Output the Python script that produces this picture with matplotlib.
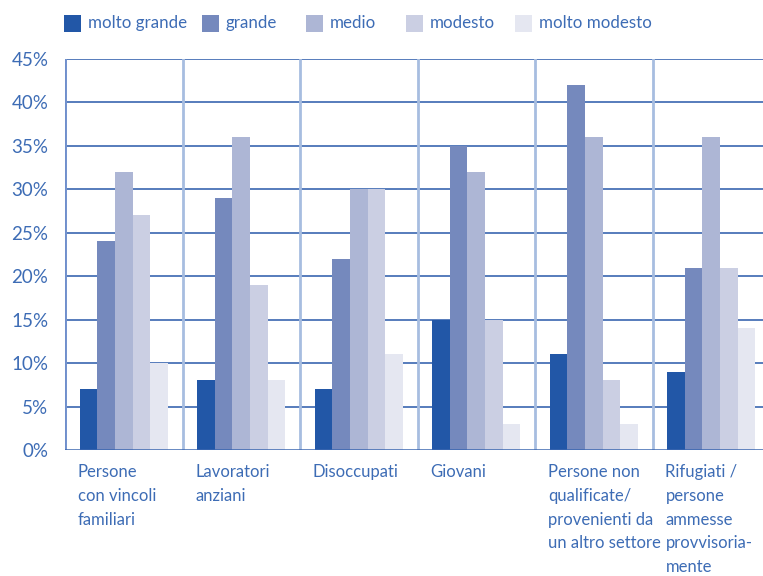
import matplotlib.pyplot as plt
import matplotlib.patches as mpatches
import numpy as np

# Categories and series
categories = [
    "Persone\ncon vincoli\nfamiliari",
    "Lavoratori\nanziani",
    "Disoccupati",
    "Giovani",
    "Persone non\nqualificate/\nprovenienti da\nun altro settore",
    "Rifugiati /\npersone\nammesse\nprovvisoria-\nmente",
]
series_names = ["molto grande", "grande", "medio", "modesto", "molto modesto"]
molto_grande = [7, 8, 7, 15, 11, 9]
grande = [24, 29, 22, 35, 42, 21]
medio = [32, 36, 30, 32, 36, 36]
modesto = [27, 19, 30, 15, 8, 21]
molto_modesto = [10, 8, 11, 3, 3, 14]
y_ticks = [0, 5, 10, 15, 20, 25, 30, 35, 40, 45]

COLORS = ["#2257a7", "#7589bd", "#adb6d5", "#cbcfe3", "#e5e7f1"]
TEXT_BLUE = "#3d6cb5"
HGRID = "#3a66b0"
VGRID = "#a7bde0"

plt.rcParams["font.family"] = ["Lato", "DejaVu Sans"]

fig = plt.figure(figsize=(7.63, 5.76), dpi=100)
fig.patch.set_facecolor("white")
ax = fig.add_axes([65 / 763, 1 - 450 / 576, 705 / 763, (450 - 59) / 576])
ax.set_facecolor("white")

x = np.arange(len(categories))
width = 0.15
all_series = [molto_grande, grande, medio, modesto, molto_modesto]
for j, vals in enumerate(all_series):
    ax.bar(x + (j - 2) * width, vals, width=width, color=COLORS[j],
           edgecolor="none", zorder=3)

ax.set_xlim(-0.5, len(categories) - 0.5)
ax.set_ylim(0, 45)

# Grid: horizontal lines darker, vertical separators lighter
for v in y_ticks[1:]:
    ax.axhline(v, color=HGRID, lw=1.2, zorder=1)
for b in np.arange(-0.5, len(categories), 1.0):
    ax.axvline(b, color=VGRID, lw=2.0, zorder=2)
ax.axvline(-0.5, color="#6f8fcc", lw=2.0, zorder=2)
ax.axhline(0, color=HGRID, lw=1.8, zorder=4)

for s in ax.spines.values():
    s.set_visible(False)
ax.set_xticks([])
ax.set_yticks(y_ticks)
ax.set_yticklabels([f"{v}%" for v in y_ticks], fontsize=13.5, color=TEXT_BLUE)
ax.tick_params(axis="y", length=0, pad=12)

# Category labels below each group, left-aligned with the first bar
for i, lab in enumerate(categories):
    ax.text(i - 0.39, -1.6, lab, ha="left", va="top", fontsize=12,
            color=TEXT_BLUE, linespacing=1.6, clip_on=False)

# Legend row across the top
legend_x = [64, 202, 306, 406, 515]
sq = 17
for xp, name, col in zip(legend_x, series_names, COLORS):
    fig.patches.append(mpatches.Rectangle(
        (xp / 763, 1 - (23 + sq / 2) / 576), sq / 763, sq / 576,
        transform=fig.transFigure, facecolor=col, edgecolor="none"))
    fig.text((xp + 24) / 763, 1 - 23 / 576, name, ha="left", va="center",
             fontsize=12.2, color=TEXT_BLUE)

fig.savefig("out.png", dpi=100, facecolor="white")
